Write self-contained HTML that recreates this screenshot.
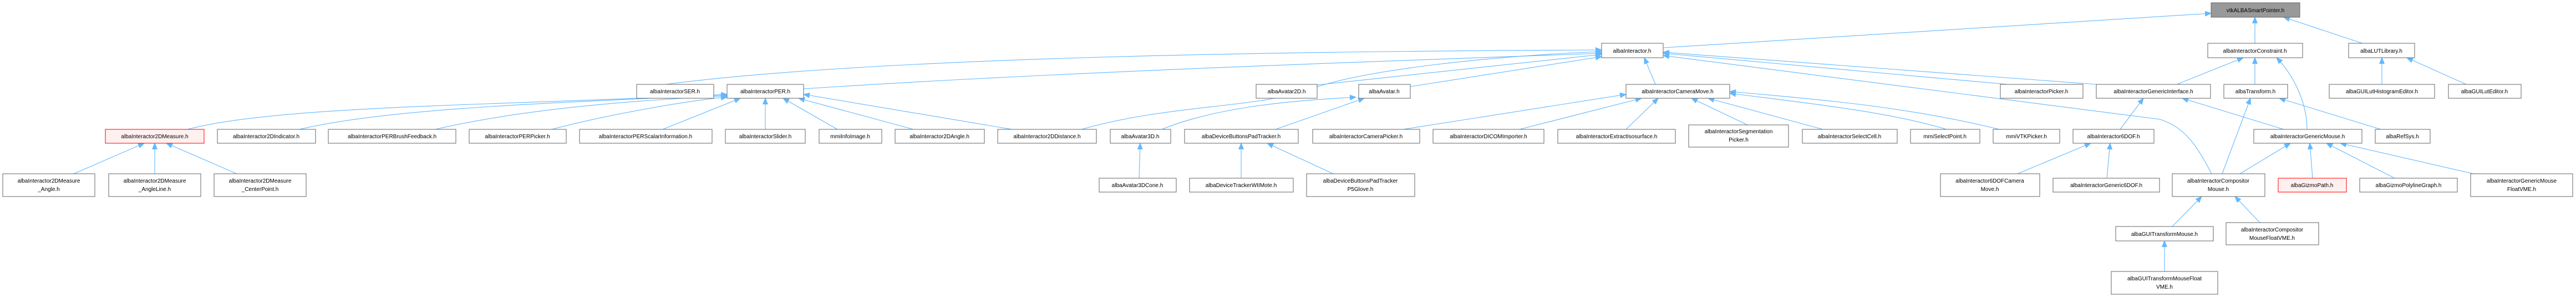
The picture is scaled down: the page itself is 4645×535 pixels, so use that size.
<!DOCTYPE html>
<html><head><meta charset="utf-8"><style>
html,body{margin:0;padding:0;background:#fff;width:4645px;height:535px;overflow:hidden}
svg{display:block}
text{font-family:"Liberation Sans",sans-serif;font-size:10px;fill:#000;text-anchor:middle}
.n{fill:#fff;stroke:#666;stroke-width:1}
.r{fill:#fff0f0;stroke:#f00;stroke-width:1}
.g{fill:#999;stroke:#666;stroke-width:1}
.e{fill:none;stroke:#63b8ff;stroke-width:1.1;marker-end:url(#a)}
</style></head><body>
<svg width="4645" height="535" viewBox="0 0 4645 535" xmlns="http://www.w3.org/2000/svg">
<defs><marker id="a" markerUnits="userSpaceOnUse" markerWidth="12" markerHeight="10" refX="11" refY="5" orient="auto"><path d="M0,0.5 L11,5 L0,9.5 Z" fill="#63b8ff" stroke="#63b8ff"/></marker></defs>
<g>
<path class="e" d="M2999,86 L3987,24"/>
<path class="e" d="M4066,78 L4066,31"/>
<path class="e" d="M4260,78 L4118,31"/>
<path class="e" d="M1200,152 C1600,100 2400,92 2888,90"/>
<path class="e" d="M1449,160 C1900,130 2500,110 2888,96"/>
<path class="e" d="M2375,153 L2888,98"/>
<path class="e" d="M2543,156 L2888,102"/>
<path class="e" d="M1950,233 C2100,190 2250,195 2350,165 C2450,125 2700,100 2888,93"/>
<path class="e" d="M2985,152 L2965,104"/>
<path class="e" d="M3620,152 L2999,96"/>
<path class="e" d="M3780,152 L2999,94"/>
<path class="e" d="M3988,313 C3960,260 3940,230 3895,215 L2999,100"/>
<path class="e" d="M338,233 C500,190 900,190 1311,170"/>
<path class="e" d="M540,233 C700,195 1000,185 1311,171"/>
<path class="e" d="M785,233 C950,195 1150,180 1311,173"/>
<path class="e" d="M995,233 C1100,205 1250,180 1311,175"/>
<path class="e" d="M1195,233 L1335,177"/>
<path class="e" d="M1380,233 L1380,177"/>
<path class="e" d="M1510,233 L1412,177"/>
<path class="e" d="M1647,233 L1440,177"/>
<path class="e" d="M1825,233 L1449,170"/>
<path class="e" d="M2095,233 C2200,190 2350,180 2445,175"/>
<path class="e" d="M2300,233 L2460,177"/>
<path class="e" d="M2530,233 L2932,170"/>
<path class="e" d="M2740,233 L2960,177"/>
<path class="e" d="M2932,233 L2990,177"/>
<path class="e" d="M3151,225 L3050,177"/>
<path class="e" d="M3287,233 L3080,177"/>
<path class="e" d="M3510,233 C3400,200 3250,185 3119,168"/>
<path class="e" d="M3605,233 C3450,195 3300,180 3119,165"/>
<path class="e" d="M2054,321 L2056,258"/>
<path class="e" d="M2238,321 L2238,258"/>
<path class="e" d="M2404,313 L2285,258"/>
<path class="e" d="M133,313 L260,258"/>
<path class="e" d="M279,313 L279,258"/>
<path class="e" d="M427,313 L300,258"/>
<path class="e" d="M3925,152 L4045,104"/>
<path class="e" d="M4066,152 L4066,104"/>
<path class="e" d="M4160,233 C4160,190 4140,140 4105,104"/>
<path class="e" d="M4295,152 L4295,104"/>
<path class="e" d="M4447,152 L4340,104"/>
<path class="e" d="M3823,233 L3865,177"/>
<path class="e" d="M4118,233 L3935,177"/>
<path class="e" d="M4007,313 L4058,177"/>
<path class="e" d="M4293,233 L4110,177"/>
<path class="e" d="M3638,313 L3770,258"/>
<path class="e" d="M3799,321 L3805,258"/>
<path class="e" d="M4039,313 L4130,258"/>
<path class="e" d="M4170,321 L4165,258"/>
<path class="e" d="M4318,321 L4195,258"/>
<path class="e" d="M4460,313 L4220,258"/>
<path class="e" d="M3917,408 L3970,354"/>
<path class="e" d="M4075,401 L4030,354"/>
<path class="e" d="M3903,489 L3903,434"/>
</g>
<g>
<rect class="g" x="3987" y="5" width="160" height="26"/><text x="4067" y="22">vtkALBASmartPointer.h</text>
<rect class="n" x="2888" y="78" width="111" height="26"/><text x="2943" y="95">albaInteractor.h</text>
<rect class="n" x="3981" y="78" width="171" height="26"/><text x="4066" y="95">albaInteractorConstraint.h</text>
<rect class="n" x="4235" y="78" width="119" height="26"/><text x="4294" y="95">albaLUTLibrary.h</text>

<rect class="n" x="1148" y="152" width="139" height="25"/><text x="1217" y="168">albaInteractorSER.h</text>
<rect class="n" x="1311" y="152" width="138" height="25"/><text x="1380" y="168">albaInteractorPER.h</text>
<rect class="n" x="2265" y="152" width="110" height="25"/><text x="2320" y="168">albaAvatar2D.h</text>
<rect class="n" x="2450" y="152" width="93" height="25"/><text x="2496" y="168">albaAvatar.h</text>
<rect class="n" x="2932" y="152" width="187" height="25"/><text x="3025" y="168">albaInteractorCameraMove.h</text>
<rect class="n" x="3607" y="152" width="149" height="25"/><text x="3681" y="168">albaInteractorPicker.h</text>
<rect class="n" x="3780" y="152" width="206" height="25"/><text x="3883" y="168">albaInteractorGenericInterface.h</text>
<rect class="n" x="4010" y="152" width="115" height="25"/><text x="4067" y="168">albaTransform.h</text>
<rect class="n" x="4200" y="152" width="190" height="25"/><text x="4295" y="168">albaGUILutHistogramEditor.h</text>
<rect class="n" x="4415" y="152" width="131" height="25"/><text x="4480" y="168">albaGUILutEditor.h</text>

<rect class="r" x="190" y="233" width="178" height="25"/><text x="279" y="249">albaInteractor2DMeasure.h</text>
<rect class="n" x="392" y="233" width="177" height="25"/><text x="480" y="249">albaInteractor2DIndicator.h</text>
<rect class="n" x="592" y="233" width="230" height="25"/><text x="707" y="249">albaInteractorPERBrushFeedback.h</text>
<rect class="n" x="846" y="233" width="175" height="25"/><text x="933" y="249">albaInteractorPERPicker.h</text>
<rect class="n" x="1045" y="233" width="239" height="25"/><text x="1164" y="249">albaInteractorPERScalarInformation.h</text>
<rect class="n" x="1308" y="233" width="144" height="25"/><text x="1380" y="249">albaInteractorSlider.h</text>
<rect class="n" x="1477" y="233" width="113" height="25"/><text x="1533" y="249">mmiInfoImage.h</text>
<rect class="n" x="1614" y="233" width="161" height="25"/><text x="1694" y="249">albaInteractor2DAngle.h</text>
<rect class="n" x="1799" y="233" width="178" height="25"/><text x="1888" y="249">albaInteractor2DDistance.h</text>
<rect class="n" x="2002" y="233" width="109" height="25"/><text x="2056" y="249">albaAvatar3D.h</text>
<rect class="n" x="2136" y="233" width="205" height="25"/><text x="2238" y="249">albaDeviceButtonsPadTracker.h</text>
<rect class="n" x="2367" y="233" width="193" height="25"/><text x="2463" y="249">albaInteractorCameraPicker.h</text>
<rect class="n" x="2584" y="233" width="200" height="25"/><text x="2684" y="249">albaInteractorDICOMImporter.h</text>
<rect class="n" x="2809" y="233" width="212" height="25"/><text x="2915" y="249">albaInteractorExtractIsosurface.h</text>
<rect class="n" x="3045" y="225" width="180" height="40"/><text x="3135" y="240">albaInteractorSegmentation</text><text x="3135" y="255">Picker.h</text>
<rect class="n" x="3250" y="233" width="171" height="25"/><text x="3335" y="249">albaInteractorSelectCell.h</text>
<rect class="n" x="3445" y="233" width="125" height="25"/><text x="3507" y="249">mmiSelectPoint.h</text>
<rect class="n" x="3594" y="233" width="120" height="25"/><text x="3654" y="249">mmiVTKPicker.h</text>
<rect class="n" x="3738" y="233" width="146" height="25"/><text x="3811" y="249">albaInteractor6DOF.h</text>
<rect class="n" x="4064" y="233" width="195" height="25"/><text x="4161" y="249">albaInteractorGenericMouse.h</text>
<rect class="n" x="4283" y="233" width="99" height="25"/><text x="4332" y="249">albaRefSys.h</text>

<rect class="n" x="5" y="313" width="166" height="41"/><text x="88" y="329">albaInteractor2DMeasure</text><text x="88" y="344">_Angle.h</text>
<rect class="n" x="196" y="313" width="166" height="41"/><text x="279" y="329">albaInteractor2DMeasure</text><text x="279" y="344">_AngleLine.h</text>
<rect class="n" x="386" y="313" width="166" height="41"/><text x="469" y="329">albaInteractor2DMeasure</text><text x="469" y="344">_CenterPoint.h</text>
<rect class="n" x="1982" y="321" width="139" height="25"/><text x="2051" y="337">albaAvatar3DCone.h</text>
<rect class="n" x="2145" y="321" width="187" height="25"/><text x="2238" y="337">albaDeviceTrackerWIIMote.h</text>
<rect class="n" x="2356" y="313" width="195" height="41"/><text x="2453" y="329">albaDeviceButtonsPadTracker</text><text x="2453" y="344">P5Glove.h</text>
<rect class="n" x="3499" y="313" width="179" height="41"/><text x="3588" y="329">albaInteractor6DOFCamera</text><text x="3588" y="344">Move.h</text>
<rect class="n" x="3702" y="321" width="192" height="25"/><text x="3798" y="337">albaInteractorGeneric6DOF.h</text>
<rect class="n" x="3917" y="313" width="167" height="41"/><text x="4000" y="329">albaInteractorCompositor</text><text x="4000" y="344">Mouse.h</text>
<rect class="r" x="4108" y="321" width="123" height="25"/><text x="4169" y="337">albaGizmoPath.h</text>
<rect class="n" x="4255" y="321" width="176" height="25"/><text x="4343" y="337">albaGizmoPolylineGraph.h</text>
<rect class="n" x="4455" y="313" width="184" height="41"/><text x="4547" y="329">albaInteractorGenericMouse</text><text x="4547" y="344">FloatVME.h</text>

<rect class="n" x="3815" y="408" width="176" height="26"/><text x="3903" y="425">albaGUITransformMouse.h</text>
<rect class="n" x="4014" y="401" width="167" height="40"/><text x="4097" y="417">albaInteractorCompositor</text><text x="4097" y="432">MouseFloatVME.h</text>
<rect class="n" x="3807" y="489" width="192" height="41"/><text x="3903" y="505">albaGUITransformMouseFloat</text><text x="3903" y="520">VME.h</text>
</g>
</svg>
</body></html>
